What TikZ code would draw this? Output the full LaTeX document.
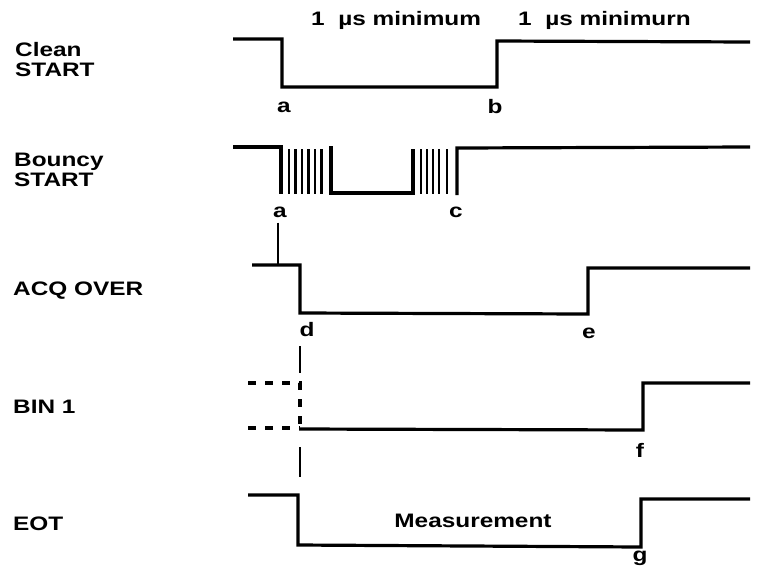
\documentclass[tikz,border=0pt]{standalone}
\usepackage{fontspec}
\newfontfamily\lab[FakeStretch=1.25, BoldFont={Liberation Sans Bold}, BoldFeatures={FakeStretch=1.25}]{Liberation Sans}
\begin{document}
\begin{tikzpicture}[x=1pt,y=-1pt,
  sig/.style={line width=3.2pt, line join=miter},
  bounce/.style={line width=2.2pt},
  thinl/.style={line width=1.5pt},
  dashsig/.style={line width=3.2pt, dash pattern=on 8pt off 9pt},
  txt/.style={inner sep=0pt, font=\lab\bfseries\fontsize{19.5}{20}\selectfont},
  signame/.style={txt, anchor=north west, align=left},
  ptlabel/.style={txt, anchor=center}]
\useasboundingbox (0,0) rectangle (759,571);

% signal names
\node[signame] (nclean) at (15,42) {Clean\\START};
\node[signame] (nbouncy) at (14,153) {Bouncy\\START};
\node[signame] (nacq) at (13,282) {ACQ OVER};
\node[signame] (nbin) at (13,400) {BIN 1};
\node[signame] (neot) at (13,517) {EOT};

% top texts
\node[txt, anchor=base west] (min1) at (311,25) {1\ \ µs minimum};
\node[txt, anchor=base west] (min2) at (518,25) {1\ \ µs minimurn};
\node[txt, anchor=base] (meas) at (473,527) {Measurement};

% Clean START
\draw[sig] (233,39) -- (282,39) -- (282,87) -- (497,87) -- (497,41) -- (750,42);
\node[ptlabel] (a1) at (284,107) {a};
\node[ptlabel] (b) at (495,107) {b};

% Bouncy START
\draw[sig] (233,147) -- (281,147) -- (281,194);
\foreach \x in {289,295.5,302,308.5,315,321.5} \draw[bounce] (\x,149) -- (\x,194);
\draw[sig] (331,146) -- (331,193) -- (413,193) -- (413,149);
\foreach \x in {421,427,433,439,447} \draw[bounce] (\x,149) -- (\x,194);
\draw[sig] (457,195) -- (457,148) -- (750,147);
\node[ptlabel] (a2) at (280,212) {a};
\node[ptlabel] (c) at (456,212) {c};

% ACQ OVER
\draw[sig] (252,265) -- (300,265) -- (300,313) -- (588,314) -- (588,268) -- (750,268);
\node[ptlabel] (d) at (307,330) {d};
\node[ptlabel] (e) at (589,333) {e};
\coordinate (acqtap) at (278,265);
\draw[thinl] (a2.south -| acqtap) ++(0,5) -- (acqtap);

% BIN 1
\draw[dashsig] (248,383) -| (300,428);
\draw[dashsig] (248,428) -- (300,428);
\draw[sig] (299,429) -- (643,430) -- (643,383) -- (750,383);
\node[ptlabel] (f) at (640,450) {f};

% d marker line
\coordinate (dtop) at (300,346);
\coordinate (dbinA) at (300,373);
\coordinate (dbinB) at (300,447);
\coordinate (deot) at (300,477);
\draw[thinl] (dtop) -- (dbinA);
\draw[thinl] (dbinB) -- (deot);

% EOT
\draw[sig] (248,495) -- (298,495) -- (298,545) -- (641,547) -- (641,499) -- (750,499);
\node[ptlabel] (g) at (640,558) {g};
\end{tikzpicture}
\end{document}
